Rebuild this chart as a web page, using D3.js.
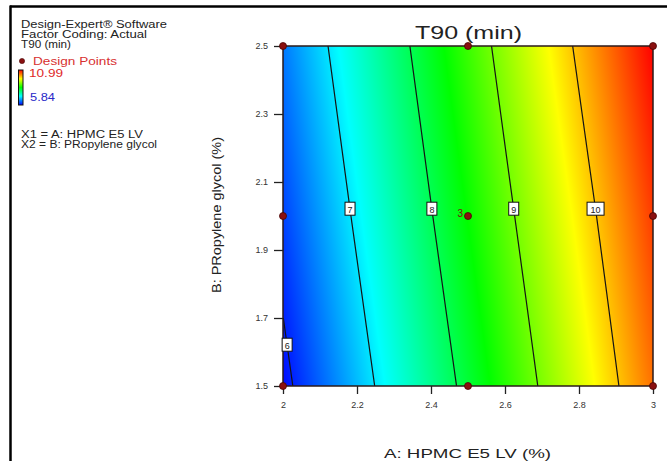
<!DOCTYPE html>
<html>
<head>
<meta charset="utf-8">
<script src="https://cdn.jsdelivr.net/npm/d3@7"></script>
<style>
  html, body { margin: 0; padding: 0; background: #fff; }
  svg { display: block; font-family: Arial, "Liberation Sans", sans-serif; }
</style>
</head>
<body>
<svg id="chart" width="671" height="461"></svg>
<script>
// Factor levels of the design (A: HPMC E5 LV %, B: Propylene glycol %)
const aLevels = [2, 2.5, 3];
const bLevels = [1.5, 2, 2.5];
// Predicted T90 (min) at each factor combination, rows follow bLevels, columns follow aLevels
const t90Grid = [
  [5.88, 8.14, 10.42],
  [6.17, 8.43, 10.69],
  [6.45, 8.71, 10.99]
];
// Colour legend limits
const colorLimits = [5.84, 10.99];
// Contour levels and the B value where each one is labelled
const contourLevels = [6, 7, 8, 9, 10];
const contourLabelB = [1.62, 2.02, 2.02, 2.02, 2.02];
// Design points (replicates counted in n)
const designA = [2, 2, 2, 2.5, 2.5, 2.5, 3, 3, 3];
const designB = [1.5, 2, 2.5, 1.5, 2, 2.5, 1.5, 2, 2.5];
const designN = [1, 1, 1, 1, 3, 1, 1, 1, 1];
// Axis ticks
const xTicks = [2, 2.2, 2.4, 2.6, 2.8, 3];
const yTicks = [1.5, 1.7, 1.9, 2.1, 2.3, 2.5];
// Side panel text
const infoLines = ["Design-Expert\u00ae Software", "Factor Coding: Actual", "T90 (min)"];
const factorLines = ["X1 = A: HPMC E5 LV", "X2 = B: PRopylene glycol"];

const svg = d3.select("#chart");

const plot = { left: 283, right: 653, top: 46, bottom: 386 };
const x = d3.scaleLinear().domain([2, 3]).range([plot.left, plot.right]);
const y = d3.scaleLinear().domain([1.5, 2.5]).range([plot.bottom, plot.top]);

// Bilinear interpolation of the prediction grid
function t90At(a, b) {
  const i = Math.min(Math.max(d3.bisectRight(aLevels, a) - 1, 0), aLevels.length - 2);
  const j = Math.min(Math.max(d3.bisectRight(bLevels, b) - 1, 0), bLevels.length - 2);
  const fa = (a - aLevels[i]) / (aLevels[i + 1] - aLevels[i]);
  const fb = (b - bLevels[j]) / (bLevels[j + 1] - bLevels[j]);
  const v00 = t90Grid[j][i], v10 = t90Grid[j][i + 1];
  const v01 = t90Grid[j + 1][i], v11 = t90Grid[j + 1][i + 1];
  return (v00 * (1 - fa) + v10 * fa) * (1 - fb) + (v01 * (1 - fa) + v11 * fa) * fb;
}

// Solve for A giving the requested level at a fixed B
function aForLevel(level, b) {
  for (let i = 0; i < aLevels.length - 1; i++) {
    const t0 = t90At(aLevels[i], b), t1 = t90At(aLevels[i + 1], b);
    if ((level - t0) * (level - t1) <= 0 && t1 !== t0) {
      return aLevels[i] + (level - t0) / (t1 - t0) * (aLevels[i + 1] - aLevels[i]);
    }
  }
  return null;
}

// Rainbow colour ramp: blue - cyan - green - yellow - red
const colorStops = d3.range(5).map(k => colorLimits[0] + k * (colorLimits[1] - colorLimits[0]) / 4);
const color = d3.scaleLinear()
  .domain(colorStops)
  .range(["#0000ff", "#00ffff", "#00ff00", "#ffff00", "#ff0000"])
  .clamp(true);

// Frame
svg.append("line").attr("x1", 10).attr("x2", 667).attr("y1", 6.5).attr("y2", 6.5)
  .attr("stroke", "#000").attr("stroke-width", 2.5);
svg.append("line").attr("x1", 10.5).attr("x2", 10.5).attr("y1", 5.5).attr("y2", 461)
  .attr("stroke", "#000").attr("stroke-width", 2.5);

// Filled response surface rendered to a canvas and placed as an image
const w = plot.right - plot.left, h = plot.bottom - plot.top;
const canvas = document.createElement("canvas");
canvas.width = w; canvas.height = h;
const ctx = canvas.getContext("2d");
const img = ctx.createImageData(w, h);
for (let py = 0; py < h; py++) {
  const b = y.invert(plot.top + py + 0.5);
  for (let px = 0; px < w; px++) {
    const a = x.invert(plot.left + px + 0.5);
    const c = d3.rgb(color(t90At(a, b)));
    const k = (py * w + px) * 4;
    img.data[k] = c.r; img.data[k + 1] = c.g; img.data[k + 2] = c.b; img.data[k + 3] = 255;
  }
}
ctx.putImageData(img, 0, 0);
svg.append("image")
  .attr("x", plot.left).attr("y", plot.top)
  .attr("width", w).attr("height", h)
  .attr("preserveAspectRatio", "none")
  .attr("href", canvas.toDataURL());

// Contour lines
const bSamples = d3.range(0, 101).map(k => 1.5 + k / 100);
const line = d3.line().x(d => x(d[0])).y(d => y(d[1]));
contourLevels.forEach(level => {
  const pts = bSamples.map(b => [aForLevel(level, b), b]).filter(d => d[0] !== null);
  svg.append("path")
    .attr("d", line(pts))
    .attr("fill", "none")
    .attr("stroke", "#141414")
    .attr("stroke-width", 1.2);
});

// Plot border
svg.append("rect")
  .attr("x", plot.left).attr("y", plot.top)
  .attr("width", w).attr("height", h)
  .attr("fill", "none").attr("stroke", "#2b1a1a").attr("stroke-width", 1.5);

// Contour labels
contourLevels.forEach((level, k) => {
  const b = contourLabelB[k];
  const a = aForLevel(level, b);
  if (a === null) return;
  const cx = x(a), cy = y(b);
  const txt = String(level);
  const bw = txt.length > 1 ? 17 : 10;
  const g = svg.append("g").attr("transform", `translate(${cx},${cy})`);
  g.append("rect").attr("x", -bw / 2).attr("y", -7).attr("width", bw).attr("height", 13)
    .attr("fill", "#fff").attr("stroke", "#111").attr("stroke-width", 1);
  g.append("text").attr("text-anchor", "middle").attr("y", 3.5)
    .attr("font-size", 9).attr("fill", "#222").text(txt);
});

// Axes
const xAxis = d3.axisBottom(x).tickValues(xTicks).tickSize(8).tickPadding(8)
  .tickFormat(d3.format("~g"));
const yAxis = d3.axisLeft(y).tickValues(yTicks).tickSize(9).tickPadding(6)
  .tickFormat(d3.format("~g"));
const gx = svg.append("g").attr("transform", `translate(0,${plot.bottom})`).call(xAxis);
const gy = svg.append("g").attr("transform", `translate(${plot.left},0)`).call(yAxis);
[gx, gy].forEach(g => {
  g.select(".domain").remove();
  g.selectAll(".tick line").attr("stroke", "#222").attr("stroke-width", 1.3);
  g.selectAll(".tick text").attr("font-size", 9).attr("fill", "#333")
    .attr("font-family", "Arial, 'Liberation Sans', sans-serif");
});

// Design points
designA.forEach((a, k) => {
  svg.append("circle")
    .attr("cx", x(a)).attr("cy", y(designB[k])).attr("r", 3.5)
    .attr("fill", "#8a1010").attr("stroke", "#4a0505").attr("stroke-width", 0.8);
  if (designN[k] > 1) {
    svg.append("text")
      .attr("x", x(a) - 5).attr("y", y(designB[k]) + 1)
      .attr("text-anchor", "end").attr("font-size", 10).attr("fill", "#7a1010")
      .text(designN[k]);
  }
});

// Titles
svg.append("text").attr("x", 415).attr("y", 39)
  .attr("font-size", 18).attr("fill", "#222")
  .attr("textLength", 107).attr("lengthAdjust", "spacingAndGlyphs")
  .text("T90 (min)");
svg.append("text").attr("x", 384).attr("y", 458)
  .attr("font-size", 12).attr("fill", "#222")
  .attr("textLength", 167).attr("lengthAdjust", "spacingAndGlyphs")
  .text("A: HPMC E5 LV (%)");
svg.append("text")
  .attr("transform", "translate(221,293) rotate(-90)")
  .attr("font-size", 12).attr("fill", "#222")
  .attr("textLength", 156).attr("lengthAdjust", "spacingAndGlyphs")
  .text("B: PRopylene glycol (%)");

// Side panel
const infoBase = [28, 38, 47.5];
const infoLen = [146, 126, 50];
infoLines.forEach((t, k) => {
  svg.append("text").attr("x", 21).attr("y", infoBase[k])
    .attr("font-size", 10).attr("fill", "#222")
    .attr("textLength", infoLen[k]).attr("lengthAdjust", "spacingAndGlyphs").text(t);
});
svg.append("circle").attr("cx", 22).attr("cy", 61).attr("r", 2.6)
  .attr("fill", "#8a1010").attr("stroke", "#4a0505").attr("stroke-width", 0.6);
svg.append("text").attr("x", 33).attr("y", 64.5)
  .attr("font-size", 10).attr("fill", "#d83030")
  .attr("textLength", 84).attr("lengthAdjust", "spacingAndGlyphs").text("Design Points");

// Colour bar
const defs = svg.append("defs");
const grad = defs.append("linearGradient").attr("id", "ramp")
  .attr("x1", 0).attr("y1", 1).attr("x2", 0).attr("y2", 0);
colorStops.forEach((v, k) => {
  grad.append("stop").attr("offset", k / (colorStops.length - 1)).attr("stop-color", color(v));
});
svg.append("rect").attr("x", 18.5).attr("y", 70).attr("width", 4.5).attr("height", 35)
  .attr("fill", "url(#ramp)").attr("stroke", "#111").attr("stroke-width", 1);
svg.append("text").attr("x", 29).attr("y", 77)
  .attr("font-size", 10).attr("fill", "#e02828")
  .attr("textLength", 34).attr("lengthAdjust", "spacingAndGlyphs").text(d3.format(".2f")(colorLimits[1]));
svg.append("text").attr("x", 30).attr("y", 100.5)
  .attr("font-size", 10).attr("fill", "#2828c8")
  .attr("textLength", 25).attr("lengthAdjust", "spacingAndGlyphs").text(d3.format(".2f")(colorLimits[0]));

const factorBase = [138, 148];
const factorLen = [122, 136];
factorLines.forEach((t, k) => {
  svg.append("text").attr("x", 21).attr("y", factorBase[k])
    .attr("font-size", 10).attr("fill", "#222")
    .attr("textLength", factorLen[k]).attr("lengthAdjust", "spacingAndGlyphs").text(t);
});
</script>
</body>
</html>
